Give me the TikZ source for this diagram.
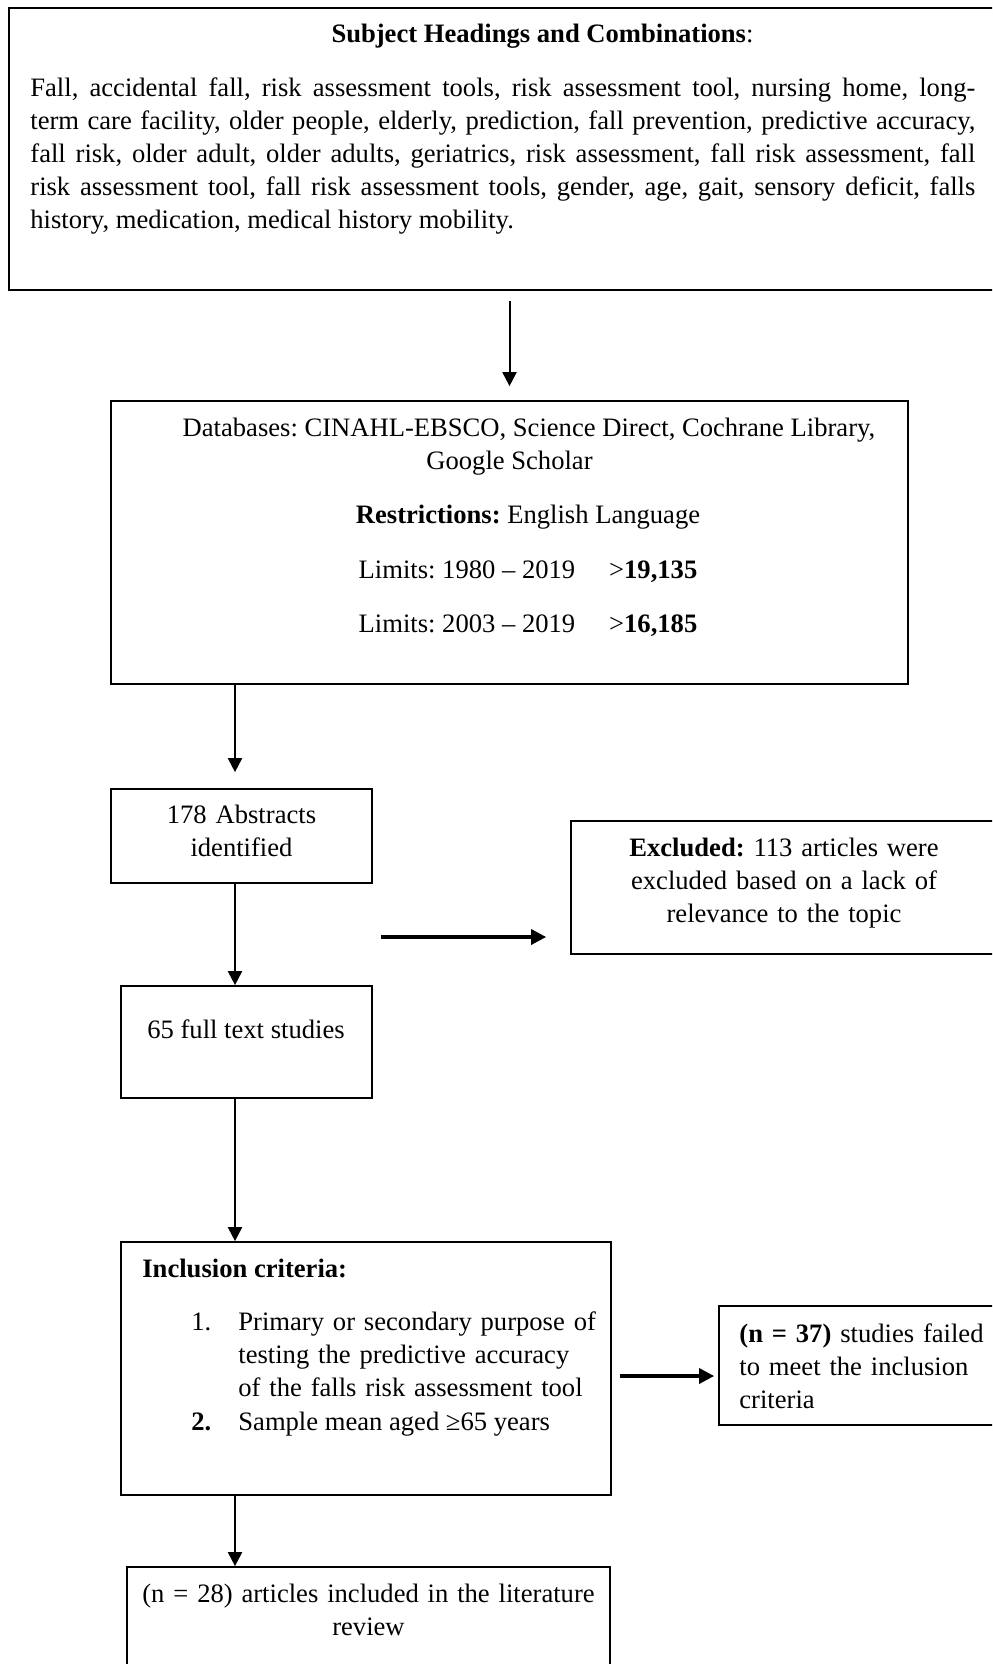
\documentclass[tikz,border=0pt]{standalone}
\usepackage{fontspec}
\setmainfont{Liberation Serif}
\usetikzlibrary{arrows.meta,fit}
\frenchspacing

\begin{document}
\begin{tikzpicture}[x=0.5pt, y=-0.5pt,
        every node/.style={inner sep=0pt, font=\fontsize{13.3}{16.5}\selectfont},
        box/.style={draw, line width=0.85pt, rectangle},
        arr/.style={-{Triangle[length=7pt,width=7pt]}, line width=1pt},
        sidearr/.style={-{Triangle[length=7.5pt,width=7.5pt]}, line width=1.6pt}]
            \useasboundingbox (0,0) rectangle (992,1664);
            \clip (0,0) rectangle (992,1664);

            \node[box, fit={(9,8) (1004,290)}] (subj) {};
            \node[box, fit={(111,401) (908,684)}] (dbs) {};
            \node[box, fit={(111,789) (372,883)}] (abs) {};
            \node[box, fit={(571,821) (1004,954)}] (excl) {};
            \node[box, fit={(121,986) (372,1098)}] (full) {};
            \node[box, fit={(121,1242) (611,1495)}] (incl) {};
            \node[box, fit={(719,1306) (1004,1425)}] (fail) {};
            \node[box, fit={(127,1567) (610,1690)}] (review) {};

            \node[anchor=base] (subjhead) at (542.5,43) {\textbf{Subject Headings and Combinations}:};
            \node[anchor=base west, text width=472.5pt, align=justify] (subjtext) at (30,97)
                {Fall, accidental fall, risk assessment tools, risk assessment tool, nursing home, long-\linebreak
                term care facility, older people, elderly, prediction, fall prevention, predictive accuracy,\linebreak
                fall risk, older adult, older adults, geriatrics, risk assessment, fall risk assessment, fall\linebreak
                risk assessment tool, fall risk assessment tools, gender, age, gait, sensory deficit, falls\linebreak
                history, medication, medical history mobility.};

            \node[anchor=base] (dbline) at (529,436) {Databases: CINAHL-EBSCO, Science Direct, Cochrane Library,};
            \node[anchor=base] (dbgoogle) at (509.5,469) {Google Scholar};
            \node[anchor=base] (restr) at (528,523) {\textbf{Restrictions:} English Language};
            \node[anchor=base] (limone) at (528,578) {Limits: 1980 – 2019\hspace{17pt}>\textbf{19,135}};
            \node[anchor=base] (limtwo) at (528,632) {Limits: 2003 – 2019\hspace{17pt}>\textbf{16,185}};

            \node[anchor=base, text width=120pt, align=center] (abstext) at (241.5,823) {178 Abstracts\\identified};
            \node[anchor=base, text width=170pt, align=center] (excltext) at (784,856)
                {\textbf{Excluded:} 113 articles were\\excluded based on a lack of\\relevance to the topic};
            \node[anchor=base] (fulltext) at (246,1038) {65 full text studies};

            \node[anchor=base west] (inclhead) at (142,1277) {\textbf{Inclusion criteria:}};
            \node[anchor=base west] (itemonenum) at (191,1330) {1.};
            \node[anchor=base west, text width=190pt, align=left] (itemone) at (238,1330)
                {Primary or secondary purpose of\\testing the predictive accuracy\\of the falls risk assessment tool};
            \node[anchor=base west] (itemtwonum) at (191,1430) {\textbf{2.}};
            \node[anchor=base west] (itemtwo) at (238,1430) {Sample mean aged ≥65 years};

            \node[anchor=base west, text width=135pt, align=left] (failtext) at (739,1342)
                {\textbf{(n = 37)} studies failed\\to meet the inclusion\\criteria};
            \node[anchor=base, text width=240pt, align=center] (reviewtext) at (368.5,1602)
                {(n = 28) articles included in the literature\\review};

            \coordinate (spine) at (235,0);
            \coordinate (exrow) at (0,937);
            \coordinate (failrow) at (0,1376);

            \draw[arr, shorten <=5pt, shorten >=7pt] (subj.south -| dbs.north) -- (dbs.north);
            \draw[arr, shorten >=8pt] (dbs.south -| spine) -- (abs.north -| spine);
            \draw[arr] (abs.south -| spine) -- (full.north -| spine);
            \draw[arr] (full.south -| spine) -- (incl.north -| spine);
            \draw[arr] (incl.south -| spine) -- (review.north -| spine);
            \draw[sidearr, shorten <=4pt, shorten >=12pt] (abs.east |- exrow) -- (excl.west |- exrow);
            \draw[sidearr, shorten <=4pt, shorten >=2pt] (incl.east |- failrow) -- (fail.west |- failrow);
        \end{tikzpicture}
\end{document}
